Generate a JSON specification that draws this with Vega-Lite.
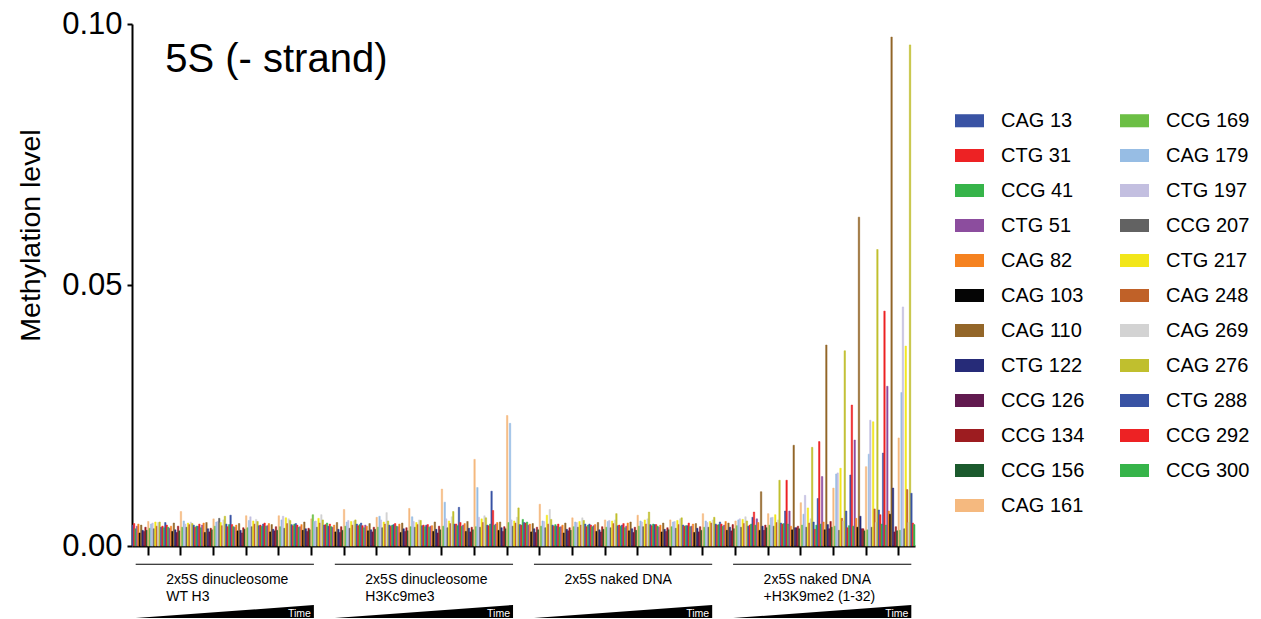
{
"$schema": "https://vega.github.io/schema/vega-lite/v6.json",
"width": 783, "height": 522,
"autosize": {"type": "none"},
"padding": {"left": 132, "top": 24, "right": 346, "bottom": 73},
"background": "white",
"config": {"view": {"stroke": null}, "font": "Liberation Sans", "axis": {"grid": false}},
"datasets": {
"conds": [
{"c":1,"label":"2x5S dinucleosome\nWT H3"},
{"c":2,"label":"2x5S dinucleosome\nH3Kc9me3"},
{"c":3,"label":"2x5S naked DNA"},
{"c":4,"label":"2x5S naked DNA\n+H3K9me2 (1-32)"}
],
"bars": [
{"g":1,"s":"CAG 13","v":0.0040},{"g":1,"s":"CTG 31","v":0.0043},{"g":1,"s":"CCG 41","v":0.0033},{"g":1,"s":"CTG 51","v":0.0038},{"g":1,"s":"CAG 82","v":0.0042},{"g":1,"s":"CAG 103","v":0.0025},{"g":1,"s":"CAG 110","v":0.0040},{"g":1,"s":"CTG 122","v":0.0030},{"g":1,"s":"CCG 126","v":0.0028},{"g":1,"s":"CCG 134","v":0.0036},{"g":1,"s":"CCG 156","v":0.0030},{"g":1,"s":"CAG 161","v":0.0047},{"g":1,"s":"CCG 169","v":0.0034},{"g":1,"s":"CAG 179","v":0.0042},{"g":1,"s":"CTG 197","v":0.0044},{"g":1,"s":"CCG 207","v":0.0033},{"g":1,"s":"CTG 217","v":0.0046},{"g":1,"s":"CAG 248","v":0.0038},{"g":1,"s":"CAG 269","v":0.0045},{"g":1,"s":"CAG 276","v":0.0046},{"g":1,"s":"CTG 288","v":0.0036},{"g":1,"s":"CCG 292","v":0.0038},{"g":1,"s":"CCG 300","v":0.0035},
{"g":2,"s":"CAG 13","v":0.0045},{"g":2,"s":"CTG 31","v":0.0040},{"g":2,"s":"CCG 41","v":0.0036},{"g":2,"s":"CTG 51","v":0.0034},{"g":2,"s":"CAG 82","v":0.0038},{"g":2,"s":"CAG 103","v":0.0028},{"g":2,"s":"CAG 110","v":0.0044},{"g":2,"s":"CTG 122","v":0.0031},{"g":2,"s":"CCG 126","v":0.0026},{"g":2,"s":"CCG 134","v":0.0038},{"g":2,"s":"CCG 156","v":0.0029},{"g":2,"s":"CAG 161","v":0.0066},{"g":2,"s":"CCG 169","v":0.0036},{"g":2,"s":"CAG 179","v":0.0048},{"g":2,"s":"CTG 197","v":0.0042},{"g":2,"s":"CCG 207","v":0.0036},{"g":2,"s":"CTG 217","v":0.0044},{"g":2,"s":"CAG 248","v":0.0041},{"g":2,"s":"CAG 269","v":0.0046},{"g":2,"s":"CAG 276","v":0.0043},{"g":2,"s":"CTG 288","v":0.0040},{"g":2,"s":"CCG 292","v":0.0036},{"g":2,"s":"CCG 300","v":0.0038},
{"g":3,"s":"CAG 13","v":0.0038},{"g":3,"s":"CTG 31","v":0.0042},{"g":3,"s":"CCG 41","v":0.0035},{"g":3,"s":"CTG 51","v":0.0040},{"g":3,"s":"CAG 82","v":0.0044},{"g":3,"s":"CAG 103","v":0.0026},{"g":3,"s":"CAG 110","v":0.0045},{"g":3,"s":"CTG 122","v":0.0033},{"g":3,"s":"CCG 126","v":0.0027},{"g":3,"s":"CCG 134","v":0.0034},{"g":3,"s":"CCG 156","v":0.0031},{"g":3,"s":"CAG 161","v":0.0052},{"g":3,"s":"CCG 169","v":0.0038},{"g":3,"s":"CAG 179","v":0.0046},{"g":3,"s":"CTG 197","v":0.0047},{"g":3,"s":"CCG 207","v":0.0053},{"g":3,"s":"CTG 217","v":0.0045},{"g":3,"s":"CAG 248","v":0.0039},{"g":3,"s":"CAG 269","v":0.0050},{"g":3,"s":"CAG 276","v":0.0057},{"g":3,"s":"CTG 288","v":0.0042},{"g":3,"s":"CCG 292","v":0.0037},{"g":3,"s":"CCG 300","v":0.0041},
{"g":4,"s":"CAG 13","v":0.0059},{"g":4,"s":"CTG 31","v":0.0041},{"g":4,"s":"CCG 41","v":0.0037},{"g":4,"s":"CTG 51","v":0.0036},{"g":4,"s":"CAG 82","v":0.0040},{"g":4,"s":"CAG 103","v":0.0029},{"g":4,"s":"CAG 110","v":0.0043},{"g":4,"s":"CTG 122","v":0.0030},{"g":4,"s":"CCG 126","v":0.0025},{"g":4,"s":"CCG 134","v":0.0035},{"g":4,"s":"CCG 156","v":0.0032},{"g":4,"s":"CAG 161","v":0.0058},{"g":4,"s":"CCG 169","v":0.0035},{"g":4,"s":"CAG 179","v":0.0049},{"g":4,"s":"CTG 197","v":0.0056},{"g":4,"s":"CCG 207","v":0.0037},{"g":4,"s":"CTG 217","v":0.0048},{"g":4,"s":"CAG 248","v":0.0042},{"g":4,"s":"CAG 269","v":0.0051},{"g":4,"s":"CAG 276","v":0.0047},{"g":4,"s":"CTG 288","v":0.0039},{"g":4,"s":"CCG 292","v":0.0040},{"g":4,"s":"CCG 300","v":0.0038},
{"g":5,"s":"CAG 13","v":0.0042},{"g":5,"s":"CTG 31","v":0.0044},{"g":5,"s":"CCG 41","v":0.0038},{"g":5,"s":"CTG 51","v":0.0039},{"g":5,"s":"CAG 82","v":0.0043},{"g":5,"s":"CAG 103","v":0.0027},{"g":5,"s":"CAG 110","v":0.0041},{"g":5,"s":"CTG 122","v":0.0032},{"g":5,"s":"CCG 126","v":0.0029},{"g":5,"s":"CCG 134","v":0.0037},{"g":5,"s":"CCG 156","v":0.0030},{"g":5,"s":"CAG 161","v":0.0058},{"g":5,"s":"CCG 169","v":0.0037},{"g":5,"s":"CAG 179","v":0.0050},{"g":5,"s":"CTG 197","v":0.0057},{"g":5,"s":"CCG 207","v":0.0034},{"g":5,"s":"CTG 217","v":0.0054},{"g":5,"s":"CAG 248","v":0.0043},{"g":5,"s":"CAG 269","v":0.0052},{"g":5,"s":"CAG 276","v":0.0049},{"g":5,"s":"CTG 288","v":0.0041},{"g":5,"s":"CCG 292","v":0.0039},{"g":5,"s":"CCG 300","v":0.0042},
{"g":6,"s":"CAG 13","v":0.0043},{"g":6,"s":"CTG 31","v":0.0040},{"g":6,"s":"CCG 41","v":0.0036},{"g":6,"s":"CTG 51","v":0.0037},{"g":6,"s":"CAG 82","v":0.0041},{"g":6,"s":"CAG 103","v":0.0030},{"g":6,"s":"CAG 110","v":0.0046},{"g":6,"s":"CTG 122","v":0.0033},{"g":6,"s":"CCG 126","v":0.0028},{"g":6,"s":"CCG 134","v":0.0034},{"g":6,"s":"CCG 156","v":0.0031},{"g":6,"s":"CAG 161","v":0.0052},{"g":6,"s":"CCG 169","v":0.0060},{"g":6,"s":"CAG 179","v":0.0047},{"g":6,"s":"CTG 197","v":0.0048},{"g":6,"s":"CCG 207","v":0.0036},{"g":6,"s":"CTG 217","v":0.0053},{"g":6,"s":"CAG 248","v":0.0044},{"g":6,"s":"CAG 269","v":0.0060},{"g":6,"s":"CAG 276","v":0.0050},{"g":6,"s":"CTG 288","v":0.0040},{"g":6,"s":"CCG 292","v":0.0041},{"g":6,"s":"CCG 300","v":0.0044},
{"g":7,"s":"CAG 13","v":0.0038},{"g":7,"s":"CTG 31","v":0.0042},{"g":7,"s":"CCG 41","v":0.0037},{"g":7,"s":"CTG 51","v":0.0036},{"g":7,"s":"CAG 82","v":0.0040},{"g":7,"s":"CAG 103","v":0.0027},{"g":7,"s":"CAG 110","v":0.0045},{"g":7,"s":"CTG 122","v":0.0032},{"g":7,"s":"CCG 126","v":0.0026},{"g":7,"s":"CCG 134","v":0.0037},{"g":7,"s":"CCG 156","v":0.0030},{"g":7,"s":"CAG 161","v":0.0070},{"g":7,"s":"CCG 169","v":0.0038},{"g":7,"s":"CAG 179","v":0.0046},{"g":7,"s":"CTG 197","v":0.0049},{"g":7,"s":"CCG 207","v":0.0034},{"g":7,"s":"CTG 217","v":0.0047},{"g":7,"s":"CAG 248","v":0.0040},{"g":7,"s":"CAG 269","v":0.0048},{"g":7,"s":"CAG 276","v":0.0050},{"g":7,"s":"CTG 288","v":0.0042},{"g":7,"s":"CCG 292","v":0.0039},{"g":7,"s":"CCG 300","v":0.0041},
{"g":8,"s":"CAG 13","v":0.0044},{"g":8,"s":"CTG 31","v":0.0039},{"g":8,"s":"CCG 41","v":0.0035},{"g":8,"s":"CTG 51","v":0.0040},{"g":8,"s":"CAG 82","v":0.0038},{"g":8,"s":"CAG 103","v":0.0029},{"g":8,"s":"CAG 110","v":0.0043},{"g":8,"s":"CTG 122","v":0.0031},{"g":8,"s":"CCG 126","v":0.0027},{"g":8,"s":"CCG 134","v":0.0036},{"g":8,"s":"CCG 156","v":0.0032},{"g":8,"s":"CAG 161","v":0.0055},{"g":8,"s":"CCG 169","v":0.0036},{"g":8,"s":"CAG 179","v":0.0057},{"g":8,"s":"CTG 197","v":0.0050},{"g":8,"s":"CCG 207","v":0.0035},{"g":8,"s":"CTG 217","v":0.0046},{"g":8,"s":"CAG 248","v":0.0042},{"g":8,"s":"CAG 269","v":0.0064},{"g":8,"s":"CAG 276","v":0.0048},{"g":8,"s":"CTG 288","v":0.0040},{"g":8,"s":"CCG 292","v":0.0038},{"g":8,"s":"CCG 300","v":0.0040},
{"g":9,"s":"CAG 13","v":0.0041},{"g":9,"s":"CTG 31","v":0.0043},{"g":9,"s":"CCG 41","v":0.0038},{"g":9,"s":"CTG 51","v":0.0037},{"g":9,"s":"CAG 82","v":0.0042},{"g":9,"s":"CAG 103","v":0.0026},{"g":9,"s":"CAG 110","v":0.0044},{"g":9,"s":"CTG 122","v":0.0033},{"g":9,"s":"CCG 126","v":0.0028},{"g":9,"s":"CCG 134","v":0.0035},{"g":9,"s":"CCG 156","v":0.0029},{"g":9,"s":"CAG 161","v":0.0072},{"g":9,"s":"CCG 169","v":0.0037},{"g":9,"s":"CAG 179","v":0.0056},{"g":9,"s":"CTG 197","v":0.0047},{"g":9,"s":"CCG 207","v":0.0036},{"g":9,"s":"CTG 217","v":0.0045},{"g":9,"s":"CAG 248","v":0.0041},{"g":9,"s":"CAG 269","v":0.0050},{"g":9,"s":"CAG 276","v":0.0049},{"g":9,"s":"CTG 288","v":0.0039},{"g":9,"s":"CCG 292","v":0.0040},{"g":9,"s":"CCG 300","v":0.0037},
{"g":10,"s":"CAG 13","v":0.0040},{"g":10,"s":"CTG 31","v":0.0041},{"g":10,"s":"CCG 41","v":0.0036},{"g":10,"s":"CTG 51","v":0.0038},{"g":10,"s":"CAG 82","v":0.0039},{"g":10,"s":"CAG 103","v":0.0028},{"g":10,"s":"CAG 110","v":0.0046},{"g":10,"s":"CTG 122","v":0.0032},{"g":10,"s":"CCG 126","v":0.0025},{"g":10,"s":"CCG 134","v":0.0038},{"g":10,"s":"CCG 156","v":0.0031},{"g":10,"s":"CAG 161","v":0.0109},{"g":10,"s":"CCG 169","v":0.0038},{"g":10,"s":"CAG 179","v":0.0084},{"g":10,"s":"CTG 197","v":0.0052},{"g":10,"s":"CCG 207","v":0.0035},{"g":10,"s":"CTG 217","v":0.0048},{"g":10,"s":"CAG 248","v":0.0043},{"g":10,"s":"CAG 269","v":0.0056},{"g":10,"s":"CAG 276","v":0.0066},{"g":10,"s":"CTG 288","v":0.0042},{"g":10,"s":"CCG 292","v":0.0042},{"g":10,"s":"CCG 300","v":0.0039},
{"g":11,"s":"CAG 13","v":0.0074},{"g":11,"s":"CTG 31","v":0.0045},{"g":11,"s":"CCG 41","v":0.0038},{"g":11,"s":"CTG 51","v":0.0040},{"g":11,"s":"CAG 82","v":0.0043},{"g":11,"s":"CAG 103","v":0.0028},{"g":11,"s":"CAG 110","v":0.0047},{"g":11,"s":"CTG 122","v":0.0034},{"g":11,"s":"CCG 126","v":0.0027},{"g":11,"s":"CCG 134","v":0.0036},{"g":11,"s":"CCG 156","v":0.0031},{"g":11,"s":"CAG 161","v":0.0166},{"g":11,"s":"CCG 169","v":0.0037},{"g":11,"s":"CAG 179","v":0.0112},{"g":11,"s":"CTG 197","v":0.0055},{"g":11,"s":"CCG 207","v":0.0036},{"g":11,"s":"CTG 217","v":0.0052},{"g":11,"s":"CAG 248","v":0.0045},{"g":11,"s":"CAG 269","v":0.0058},{"g":11,"s":"CAG 276","v":0.0054},{"g":11,"s":"CTG 288","v":0.0040},{"g":11,"s":"CCG 292","v":0.0039},{"g":11,"s":"CCG 300","v":0.0042},
{"g":12,"s":"CAG 13","v":0.0105},{"g":12,"s":"CTG 31","v":0.0068},{"g":12,"s":"CCG 41","v":0.0040},{"g":12,"s":"CTG 51","v":0.0042},{"g":12,"s":"CAG 82","v":0.0045},{"g":12,"s":"CAG 103","v":0.0030},{"g":12,"s":"CAG 110","v":0.0046},{"g":12,"s":"CTG 122","v":0.0035},{"g":12,"s":"CCG 126","v":0.0028},{"g":12,"s":"CCG 134","v":0.0037},{"g":12,"s":"CCG 156","v":0.0033},{"g":12,"s":"CAG 161","v":0.0250},{"g":12,"s":"CCG 169","v":0.0045},{"g":12,"s":"CAG 179","v":0.0235},{"g":12,"s":"CTG 197","v":0.0050},{"g":12,"s":"CCG 207","v":0.0038},{"g":12,"s":"CTG 217","v":0.0048},{"g":12,"s":"CAG 248","v":0.0044},{"g":12,"s":"CAG 269","v":0.0055},{"g":12,"s":"CAG 276","v":0.0073},{"g":12,"s":"CTG 288","v":0.0041},{"g":12,"s":"CCG 292","v":0.0040},{"g":12,"s":"CCG 300","v":0.0051},
{"g":13,"s":"CAG 13","v":0.0045},{"g":13,"s":"CTG 31","v":0.0044},{"g":13,"s":"CCG 41","v":0.0046},{"g":13,"s":"CTG 51","v":0.0040},{"g":13,"s":"CAG 82","v":0.0042},{"g":13,"s":"CAG 103","v":0.0027},{"g":13,"s":"CAG 110","v":0.0043},{"g":13,"s":"CTG 122","v":0.0033},{"g":13,"s":"CCG 126","v":0.0026},{"g":13,"s":"CCG 134","v":0.0036},{"g":13,"s":"CCG 156","v":0.0031},{"g":13,"s":"CAG 161","v":0.0080},{"g":13,"s":"CCG 169","v":0.0038},{"g":13,"s":"CAG 179","v":0.0048},{"g":13,"s":"CTG 197","v":0.0047},{"g":13,"s":"CCG 207","v":0.0035},{"g":13,"s":"CTG 217","v":0.0059},{"g":13,"s":"CAG 248","v":0.0042},{"g":13,"s":"CAG 269","v":0.0070},{"g":13,"s":"CAG 276","v":0.0051},{"g":13,"s":"CTG 288","v":0.0040},{"g":13,"s":"CCG 292","v":0.0038},{"g":13,"s":"CCG 300","v":0.0041},
{"g":14,"s":"CAG 13","v":0.0038},{"g":14,"s":"CTG 31","v":0.0042},{"g":14,"s":"CCG 41","v":0.0036},{"g":14,"s":"CTG 51","v":0.0037},{"g":14,"s":"CAG 82","v":0.0040},{"g":14,"s":"CAG 103","v":0.0025},{"g":14,"s":"CAG 110","v":0.0044},{"g":14,"s":"CTG 122","v":0.0032},{"g":14,"s":"CCG 126","v":0.0029},{"g":14,"s":"CCG 134","v":0.0035},{"g":14,"s":"CCG 156","v":0.0030},{"g":14,"s":"CAG 161","v":0.0054},{"g":14,"s":"CCG 169","v":0.0037},{"g":14,"s":"CAG 179","v":0.0046},{"g":14,"s":"CTG 197","v":0.0045},{"g":14,"s":"CCG 207","v":0.0036},{"g":14,"s":"CTG 217","v":0.0047},{"g":14,"s":"CAG 248","v":0.0040},{"g":14,"s":"CAG 269","v":0.0054},{"g":14,"s":"CAG 276","v":0.0049},{"g":14,"s":"CTG 288","v":0.0042},{"g":14,"s":"CCG 292","v":0.0037},{"g":14,"s":"CCG 300","v":0.0040},
{"g":15,"s":"CAG 13","v":0.0042},{"g":15,"s":"CTG 31","v":0.0040},{"g":15,"s":"CCG 41","v":0.0037},{"g":15,"s":"CTG 51","v":0.0039},{"g":15,"s":"CAG 82","v":0.0041},{"g":15,"s":"CAG 103","v":0.0028},{"g":15,"s":"CAG 110","v":0.0045},{"g":15,"s":"CTG 122","v":0.0031},{"g":15,"s":"CCG 126","v":0.0027},{"g":15,"s":"CCG 134","v":0.0037},{"g":15,"s":"CCG 156","v":0.0032},{"g":15,"s":"CAG 161","v":0.0050},{"g":15,"s":"CCG 169","v":0.0036},{"g":15,"s":"CAG 179","v":0.0047},{"g":15,"s":"CTG 197","v":0.0049},{"g":15,"s":"CCG 207","v":0.0035},{"g":15,"s":"CTG 217","v":0.0048},{"g":15,"s":"CAG 248","v":0.0043},{"g":15,"s":"CAG 269","v":0.0050},{"g":15,"s":"CAG 276","v":0.0062},{"g":15,"s":"CTG 288","v":0.0039},{"g":15,"s":"CCG 292","v":0.0040},{"g":15,"s":"CCG 300","v":0.0038},
{"g":16,"s":"CAG 13","v":0.0040},{"g":16,"s":"CTG 31","v":0.0043},{"g":16,"s":"CCG 41","v":0.0035},{"g":16,"s":"CTG 51","v":0.0038},{"g":16,"s":"CAG 82","v":0.0044},{"g":16,"s":"CAG 103","v":0.0029},{"g":16,"s":"CAG 110","v":0.0046},{"g":16,"s":"CTG 122","v":0.0033},{"g":16,"s":"CCG 126","v":0.0026},{"g":16,"s":"CCG 134","v":0.0036},{"g":16,"s":"CCG 156","v":0.0030},{"g":16,"s":"CAG 161","v":0.0059},{"g":16,"s":"CCG 169","v":0.0038},{"g":16,"s":"CAG 179","v":0.0048},{"g":16,"s":"CTG 197","v":0.0046},{"g":16,"s":"CCG 207","v":0.0037},{"g":16,"s":"CTG 217","v":0.0050},{"g":16,"s":"CAG 248","v":0.0042},{"g":16,"s":"CAG 269","v":0.0052},{"g":16,"s":"CAG 276","v":0.0065},{"g":16,"s":"CTG 288","v":0.0041},{"g":16,"s":"CCG 292","v":0.0039},{"g":16,"s":"CCG 300","v":0.0042},
{"g":17,"s":"CAG 13","v":0.0041},{"g":17,"s":"CTG 31","v":0.0041},{"g":17,"s":"CCG 41","v":0.0038},{"g":17,"s":"CTG 51","v":0.0036},{"g":17,"s":"CAG 82","v":0.0040},{"g":17,"s":"CAG 103","v":0.0027},{"g":17,"s":"CAG 110","v":0.0044},{"g":17,"s":"CTG 122","v":0.0032},{"g":17,"s":"CCG 126","v":0.0028},{"g":17,"s":"CCG 134","v":0.0035},{"g":17,"s":"CCG 156","v":0.0031},{"g":17,"s":"CAG 161","v":0.0050},{"g":17,"s":"CCG 169","v":0.0037},{"g":17,"s":"CAG 179","v":0.0046},{"g":17,"s":"CTG 197","v":0.0047},{"g":17,"s":"CCG 207","v":0.0034},{"g":17,"s":"CTG 217","v":0.0049},{"g":17,"s":"CAG 248","v":0.0041},{"g":17,"s":"CAG 269","v":0.0052},{"g":17,"s":"CAG 276","v":0.0054},{"g":17,"s":"CTG 288","v":0.0040},{"g":17,"s":"CCG 292","v":0.0038},{"g":17,"s":"CCG 300","v":0.0039},
{"g":18,"s":"CAG 13","v":0.0039},{"g":18,"s":"CTG 31","v":0.0044},{"g":18,"s":"CCG 41","v":0.0037},{"g":18,"s":"CTG 51","v":0.0038},{"g":18,"s":"CAG 82","v":0.0042},{"g":18,"s":"CAG 103","v":0.0026},{"g":18,"s":"CAG 110","v":0.0043},{"g":18,"s":"CTG 122","v":0.0034},{"g":18,"s":"CCG 126","v":0.0027},{"g":18,"s":"CCG 134","v":0.0037},{"g":18,"s":"CCG 156","v":0.0030},{"g":18,"s":"CAG 161","v":0.0062},{"g":18,"s":"CCG 169","v":0.0036},{"g":18,"s":"CAG 179","v":0.0048},{"g":18,"s":"CTG 197","v":0.0045},{"g":18,"s":"CCG 207","v":0.0036},{"g":18,"s":"CTG 217","v":0.0047},{"g":18,"s":"CAG 248","v":0.0044},{"g":18,"s":"CAG 269","v":0.0050},{"g":18,"s":"CAG 276","v":0.0055},{"g":18,"s":"CTG 288","v":0.0042},{"g":18,"s":"CCG 292","v":0.0040},{"g":18,"s":"CCG 300","v":0.0041},
{"g":19,"s":"CAG 13","v":0.0046},{"g":19,"s":"CTG 31","v":0.0042},{"g":19,"s":"CCG 41","v":0.0038},{"g":19,"s":"CTG 51","v":0.0040},{"g":19,"s":"CAG 82","v":0.0047},{"g":19,"s":"CAG 103","v":0.0030},{"g":19,"s":"CAG 110","v":0.0044},{"g":19,"s":"CTG 122","v":0.0036},{"g":19,"s":"CCG 126","v":0.0029},{"g":19,"s":"CCG 134","v":0.0041},{"g":19,"s":"CCG 156","v":0.0033},{"g":19,"s":"CAG 161","v":0.0048},{"g":19,"s":"CCG 169","v":0.0039},{"g":19,"s":"CAG 179","v":0.0050},{"g":19,"s":"CTG 197","v":0.0052},{"g":19,"s":"CCG 207","v":0.0036},{"g":19,"s":"CTG 217","v":0.0051},{"g":19,"s":"CAG 248","v":0.0043},{"g":19,"s":"CAG 269","v":0.0056},{"g":19,"s":"CAG 276","v":0.0048},{"g":19,"s":"CTG 288","v":0.0038},{"g":19,"s":"CCG 292","v":0.0040},{"g":19,"s":"CCG 300","v":0.0042},
{"g":20,"s":"CAG 13","v":0.0055},{"g":20,"s":"CTG 31","v":0.0065},{"g":20,"s":"CCG 41","v":0.0040},{"g":20,"s":"CTG 51","v":0.0052},{"g":20,"s":"CAG 82","v":0.0045},{"g":20,"s":"CAG 103","v":0.0030},{"g":20,"s":"CAG 110","v":0.0104},{"g":20,"s":"CTG 122","v":0.0038},{"g":20,"s":"CCG 126","v":0.0030},{"g":20,"s":"CCG 134","v":0.0040},{"g":20,"s":"CCG 156","v":0.0035},{"g":20,"s":"CAG 161","v":0.0062},{"g":20,"s":"CCG 169","v":0.0040},{"g":20,"s":"CAG 179","v":0.0054},{"g":20,"s":"CTG 197","v":0.0055},{"g":20,"s":"CCG 207","v":0.0038},{"g":20,"s":"CTG 217","v":0.0060},{"g":20,"s":"CAG 248","v":0.0045},{"g":20,"s":"CAG 269","v":0.0050},{"g":20,"s":"CAG 276","v":0.0126},{"g":20,"s":"CTG 288","v":0.0044},{"g":20,"s":"CCG 292","v":0.0042},{"g":20,"s":"CCG 300","v":0.0043},
{"g":21,"s":"CAG 13","v":0.0067},{"g":21,"s":"CTG 31","v":0.0126},{"g":21,"s":"CCG 41","v":0.0042},{"g":21,"s":"CTG 51","v":0.0067},{"g":21,"s":"CAG 82","v":0.0038},{"g":21,"s":"CAG 103","v":0.0031},{"g":21,"s":"CAG 110","v":0.0193},{"g":21,"s":"CTG 122","v":0.0035},{"g":21,"s":"CCG 126","v":0.0035},{"g":21,"s":"CCG 134","v":0.0038},{"g":21,"s":"CCG 156","v":0.0033},{"g":21,"s":"CAG 161","v":0.0083},{"g":21,"s":"CCG 169","v":0.0040},{"g":21,"s":"CAG 179","v":0.0061},{"g":21,"s":"CTG 197","v":0.0097},{"g":21,"s":"CCG 207","v":0.0036},{"g":21,"s":"CTG 217","v":0.0073},{"g":21,"s":"CAG 248","v":0.0044},{"g":21,"s":"CAG 269","v":0.0052},{"g":21,"s":"CAG 276","v":0.0189},{"g":21,"s":"CTG 288","v":0.0046},{"g":21,"s":"CCG 292","v":0.0032},{"g":21,"s":"CCG 300","v":0.0040},
{"g":22,"s":"CAG 13","v":0.0091},{"g":22,"s":"CTG 31","v":0.0200},{"g":22,"s":"CCG 41","v":0.0042},{"g":22,"s":"CTG 51","v":0.0133},{"g":22,"s":"CAG 82","v":0.0046},{"g":22,"s":"CAG 103","v":0.0031},{"g":22,"s":"CAG 110","v":0.0385},{"g":22,"s":"CTG 122","v":0.0041},{"g":22,"s":"CCG 126","v":0.0033},{"g":22,"s":"CCG 134","v":0.0047},{"g":22,"s":"CCG 156","v":0.0036},{"g":22,"s":"CAG 161","v":0.0111},{"g":22,"s":"CCG 169","v":0.0038},{"g":22,"s":"CAG 179","v":0.0138},{"g":22,"s":"CTG 197","v":0.0140},{"g":22,"s":"CCG 207","v":0.0030},{"g":22,"s":"CTG 217","v":0.0149},{"g":22,"s":"CAG 248","v":0.0053},{"g":22,"s":"CAG 269","v":0.0048},{"g":22,"s":"CAG 276","v":0.0374},{"g":22,"s":"CTG 288","v":0.0067},{"g":22,"s":"CCG 292","v":0.0035},{"g":22,"s":"CCG 300","v":0.0039},
{"g":23,"s":"CAG 13","v":0.0136},{"g":23,"s":"CTG 31","v":0.0270},{"g":23,"s":"CCG 41","v":0.0038},{"g":23,"s":"CTG 51","v":0.0203},{"g":23,"s":"CAG 82","v":0.0053},{"g":23,"s":"CAG 103","v":0.0036},{"g":23,"s":"CAG 110","v":0.0630},{"g":23,"s":"CTG 122","v":0.0057},{"g":23,"s":"CCG 126","v":0.0033},{"g":23,"s":"CCG 134","v":0.0033},{"g":23,"s":"CCG 156","v":0.0029},{"g":23,"s":"CAG 161","v":0.0152},{"g":23,"s":"CCG 169","v":0.0031},{"g":23,"s":"CAG 179","v":0.0176},{"g":23,"s":"CTG 197","v":0.0241},{"g":23,"s":"CCG 207","v":0.0036},{"g":23,"s":"CTG 217","v":0.0238},{"g":23,"s":"CAG 248","v":0.0071},{"g":23,"s":"CAG 269","v":0.0045},{"g":23,"s":"CAG 276","v":0.0568},{"g":23,"s":"CTG 288","v":0.0069},{"g":23,"s":"CCG 292","v":0.0060},{"g":23,"s":"CCG 300","v":0.0042},
{"g":24,"s":"CAG 13","v":0.0178},{"g":24,"s":"CTG 31","v":0.0450},{"g":24,"s":"CCG 41","v":0.0040},{"g":24,"s":"CTG 51","v":0.0306},{"g":24,"s":"CAG 82","v":0.0067},{"g":24,"s":"CAG 103","v":0.0061},{"g":24,"s":"CAG 110","v":0.0975},{"g":24,"s":"CTG 122","v":0.0111},{"g":24,"s":"CCG 126","v":0.0027},{"g":24,"s":"CCG 134","v":0.0037},{"g":24,"s":"CCG 156","v":0.0029},{"g":24,"s":"CAG 161","v":0.0207},{"g":24,"s":"CCG 169","v":0.0030},{"g":24,"s":"CAG 179","v":0.0294},{"g":24,"s":"CTG 197","v":0.0458},{"g":24,"s":"CCG 207","v":0.0033},{"g":24,"s":"CTG 217","v":0.0383},{"g":24,"s":"CAG 248","v":0.0108},{"g":24,"s":"CAG 269","v":0.0045},{"g":24,"s":"CAG 276","v":0.0960},{"g":24,"s":"CTG 288","v":0.0101},{"g":24,"s":"CCG 292","v":0.0044},{"g":24,"s":"CCG 300","v":0.0041}
]
},
"layer": [
{
"data": {"name": "bars"},
"mark": {"type": "bar", "strokeWidth": 0.5},
"encoding": {
"x": {"field": "g", "type": "ordinal", "scale": {"paddingInner": 0, "paddingOuter": 0},
"axis": {"title": null, "labels": false, "ticks": true, "tickSize": 9, "tickWidth": 2, "tickColor": "black", "domainColor": "black", "domainWidth": 2, "grid": false}},
"xOffset": {"field": "s", "type": "nominal", "scale": {"domain": ["CAG 13","CTG 31","CCG 41","CTG 51","CAG 82","CAG 103","CAG 110","CTG 122","CCG 126","CCG 134","CCG 156","CAG 161","CCG 169","CAG 179","CTG 197","CCG 207","CTG 217","CAG 248","CAG 269","CAG 276","CTG 288","CCG 292","CCG 300"], "paddingInner": 0, "paddingOuter": 0}},
"y": {"field": "v", "type": "quantitative", "stack": null, "scale": {"domain": [0, 0.1], "nice": false},
"axis": {"title": "Methylation level", "values": [0, 0.05, 0.1], "format": ".2f", "labelFontSize": 31, "labelFont": "Liberation Sans", "labelColor": "black", "labelPadding": 5, "tickSize": 5, "tickWidth": 2, "tickColor": "black", "domainColor": "black", "domainWidth": 2, "grid": false, "titleFont": "Liberation Sans", "titleFontSize": 28.5, "titleFontWeight": "normal", "titleColor": "black", "titleX": -93, "titleY": 211, "titleAngle": 270, "titleBaseline": "alphabetic", "titleAlign": "center"}},
"stroke": {"field": "s", "type": "nominal", "legend": null,
"scale": {"domain": ["CAG 13","CTG 31","CCG 41","CTG 51","CAG 82","CAG 103","CAG 110","CTG 122","CCG 126","CCG 134","CCG 156","CAG 161","CCG 169","CAG 179","CTG 197","CCG 207","CTG 217","CAG 248","CAG 269","CAG 276","CTG 288","CCG 292","CCG 300"],
"range": ["#3953a4","#ed2224","#36b44a","#8c4d9e","#f58220","#050505","#936629","#262b78","#611a4f","#9d1c20","#1b5a2d","#f5b97f","#6cbf45","#97bde4","#c3bfe0","#626262","#f2e61a","#c06128","#d3d3d3","#c0bf2e","#3953a4","#ed2224","#36b44a"]}},
"color": {"field": "s", "type": "nominal",
"scale": {"domain": ["CAG 13","CTG 31","CCG 41","CTG 51","CAG 82","CAG 103","CAG 110","CTG 122","CCG 126","CCG 134","CCG 156","CAG 161","CCG 169","CAG 179","CTG 197","CCG 207","CTG 217","CAG 248","CAG 269","CAG 276","CTG 288","CCG 292","CCG 300"],
"range": ["#3953a4","#ed2224","#36b44a","#8c4d9e","#f58220","#050505","#936629","#262b78","#611a4f","#9d1c20","#1b5a2d","#f5b97f","#6cbf45","#97bde4","#c3bfe0","#626262","#f2e61a","#c06128","#d3d3d3","#c0bf2e","#3953a4","#ed2224","#36b44a"]},
"legend": {"orient": "none", "legendX": 823, "legendY": 82, "title": null, "columns": 2,
"symbolType": "M-1,-0.45H1V0.45H-1Z", "symbolSize": 841, "symbolStrokeWidth": 0, "symbolOpacity": 1,
"labelFontSize": 20, "labelFont": "Liberation Sans", "labelColor": "black", "labelOffset": 17, "rowPadding": 10, "columnPadding": 35}}
}
},
{
"data": {"name": "conds"},
"encoding": {
"x": {"field": "c", "type": "ordinal", "scale": {"paddingInner": 0.105, "paddingOuter": 0.0185}, "axis": null}
},
"layer": [
{
"mark": {"type": "bar", "color": "black"},
"encoding": {
"y": {"datum": -0.0034, "type": "quantitative", "scale": {"domain": [0, 0.1]}},
"y2": {"datum": -0.0036}
}
},
{
"mark": {"type": "text", "align": "left", "baseline": "alphabetic", "fontSize": 14, "font": "Liberation Sans", "color": "black", "dx": 30.5, "lineBreak": "\n", "lineHeight": 17},
"encoding": {
"x": {"field": "c", "type": "ordinal", "bandPosition": 0, "axis": null},
"y": {"datum": -0.00728, "type": "quantitative", "scale": {"domain": [0, 0.1]}},
"text": {"field": "label"}
}
},
{
"mark": {"type": "point", "shape": "M-1,0.073L1,0.073L1,-0.073Z", "size": 31755, "filled": true, "color": "black", "opacity": 1, "strokeWidth": 0},
"encoding": {
"y": {"datum": -0.01255, "type": "quantitative", "scale": {"domain": [0, 0.1]}}
}
},
{
"mark": {"type": "text", "align": "right", "baseline": "alphabetic", "fontSize": 10.5, "font": "Liberation Sans", "color": "white", "dx": -3},
"encoding": {
"x": {"field": "c", "type": "ordinal", "bandPosition": 1, "axis": null},
"y": {"datum": -0.01354, "type": "quantitative", "scale": {"domain": [0, 0.1]}},
"text": {"value": "Time"}
}
},
{
"transform": [{"filter": {"field": "c", "equal": 1}}],
"mark": {"type": "text", "align": "left", "baseline": "alphabetic", "fontSize": 40, "font": "Liberation Sans", "color": "black", "dx": 29.5},
"encoding": {
"x": {"field": "c", "type": "ordinal", "bandPosition": 0, "axis": null},
"y": {"datum": 0.0908, "type": "quantitative", "scale": {"domain": [0, 0.1]}},
"text": {"value": "5S (- strand)"}
}
}
]
}
],
"resolve": {"scale": {"x": "independent"}}
}
